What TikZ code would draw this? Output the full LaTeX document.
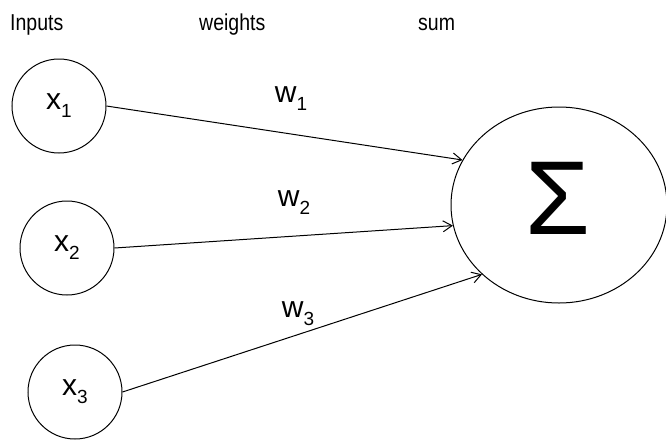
\documentclass[tikz,border=0pt]{standalone}
\usepackage{fontspec}
\setmainfont{Liberation Sans}
\usetikzlibrary{shapes.geometric,arrows.meta}
\newcommand{\sublabel}[2]{#1\raisebox{-8pt}{\fontsize{19}{19}\selectfont #2}}
\newcommand{\tallhead}[1]{\scalebox{1}[1.18]{#1}}
\tikzset{
  header/.style={anchor=base west, font=\fontsize{19.5}{19.5}\selectfont, inner sep=0},
  inputnode/.style={circle, draw, line width=1pt, minimum size=94pt, inner sep=0, font=\fontsize{30}{30}\selectfont},
  sumnode/.style={ellipse, draw, line width=1pt, minimum width=216pt, minimum height=196pt, inner sep=0},
  weightlabel/.style={font=\fontsize{30}{30}\selectfont, inner sep=0},
  conn/.style={line width=1pt, -{Straight Barb[length=9pt,width=11pt,line width=1pt]}}
}
\begin{document}
\begin{tikzpicture}[x=1pt,y=-1pt]
\useasboundingbox (0,0) rectangle (666,440);
\node[header] (hin) at (10,30) {\tallhead{Inputs}};
\node[header] (hw) at (199,30) {\tallhead{weights}};
\node[header] (hs) at (418,30) {\tallhead{sum}};
\node[inputnode] (x1) at (59,106) {\sublabel{x}{1}};
\node[inputnode] (x2) at (67,248) {\sublabel{x}{2}};
\node[inputnode] (x3) at (75,392) {\sublabel{x}{3}};
\node[sumnode] (sum) at (559,205) {};
\node[inner sep=0, font=\fontsize{105}{105}\selectfont] (sigma) at (558,198) {Σ};
\node[weightlabel] (w1) at (291,99) {\sublabel{w}{1}};
\node[weightlabel] (w2) at (294,203) {\sublabel{w}{2}};
\node[weightlabel] (w3) at (298,314) {\sublabel{w}{3}};
\draw[conn] (x1.east) -- (sum.155);
\draw[conn] (x2.east) -- (sum.191);
\draw[conn] (x3.east) -- (sum.222);
\end{tikzpicture}
\end{document}
